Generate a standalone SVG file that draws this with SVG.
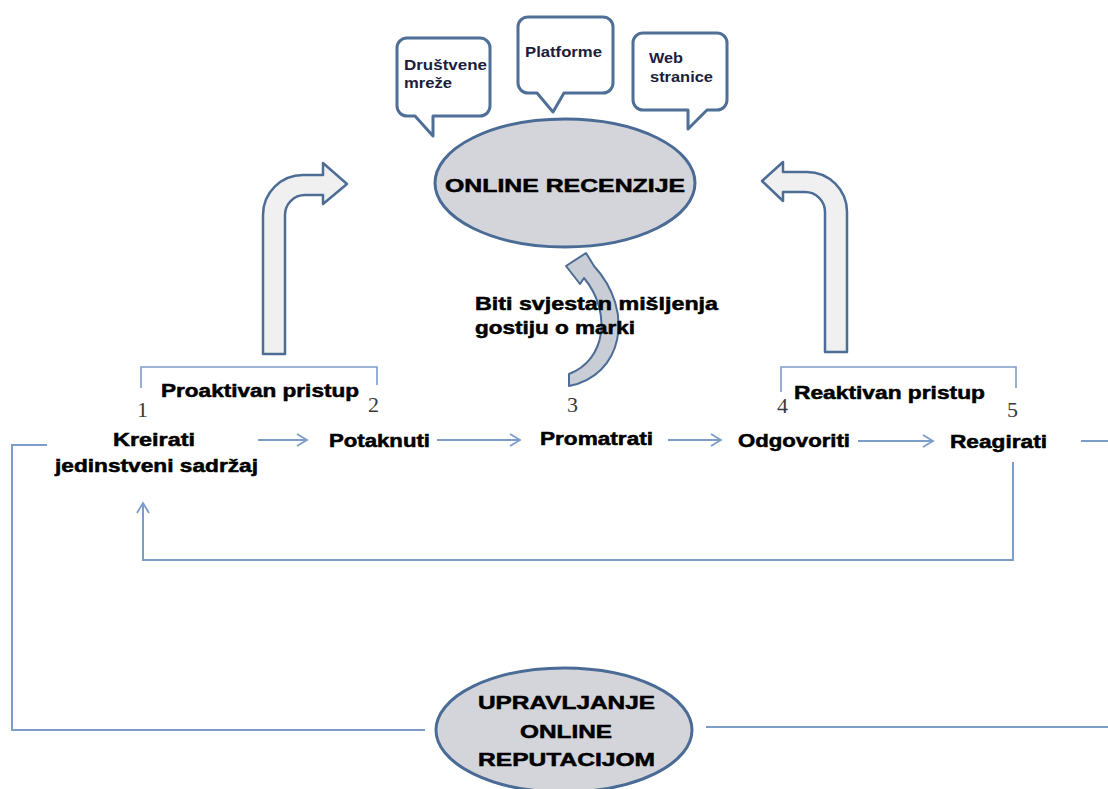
<svg xmlns="http://www.w3.org/2000/svg" width="1108" height="789" viewBox="0 0 1108 789">
<defs>
<marker id="ah" markerUnits="userSpaceOnUse" markerWidth="14" markerHeight="14" refX="11" refY="7" orient="auto">
<path d="M1,1 L11,7 L1,13" fill="none" stroke="#7c9cc9" stroke-width="1.8"/>
</marker>
</defs>
<style>
.t{font-family:"Liberation Sans",Arial,sans-serif;font-weight:bold;font-size:18px;fill:#000;stroke:#000;stroke-width:0.5;}
.b{font-family:"Liberation Sans",Arial,sans-serif;font-weight:bold;font-size:15px;fill:#1c1c3c;}
.n{font-family:"Liberation Serif","Times New Roman",serif;font-size:22px;fill:#3a3a3a;}
.bub{fill:#fff;stroke:#4f6f96;stroke-width:3;stroke-linejoin:round;}
.ell{fill:#d4d5da;stroke:#4a6b95;stroke-width:3;}
.big{fill:#f0f0f0;stroke:#4d6d96;stroke-width:2.5;stroke-linejoin:round;}
.ln{fill:none;stroke:#7c9cc9;stroke-width:2;}
.br{fill:none;stroke:#7c9cc9;stroke-width:1.6;}
</style>
<rect width="1108" height="789" fill="#fff"/>

<g id="bubble-drustvene">
<path class="bub" d="M407 38 H480 A10 10 0 0 1 490 48 V106 A10 10 0 0 1 480 116 H433 V136 L415 116 H407 A10 10 0 0 1 397 106 V48 A10 10 0 0 1 407 38 Z"/>
<text class="b" x="404" y="70" textLength="83" lengthAdjust="spacingAndGlyphs">Društvene</text>
<text class="b" x="404" y="88" textLength="48" lengthAdjust="spacingAndGlyphs">mreže</text>
</g>
<g id="bubble-platforme">
<path class="bub" d="M528 17 H603 A10 10 0 0 1 613 27 V83 A10 10 0 0 1 603 93 H564 L553 112 L537 93 H528 A10 10 0 0 1 518 83 V27 A10 10 0 0 1 528 17 Z"/>
<text class="b" x="525" y="57" textLength="77" lengthAdjust="spacingAndGlyphs">Platforme</text>
</g>
<g id="bubble-web">
<path class="bub" d="M643 33 H717 A10 10 0 0 1 727 43 V100 A10 10 0 0 1 717 110 H707 L688 129 V110 H643 A10 10 0 0 1 633 100 V43 A10 10 0 0 1 643 33 Z"/>
<text class="b" x="649" y="63" textLength="34" lengthAdjust="spacingAndGlyphs">Web</text>
<text class="b" x="650" y="82" textLength="63" lengthAdjust="spacingAndGlyphs">stranice</text>
</g>

<g id="online-recenzije">
<ellipse class="ell" cx="565" cy="183" rx="130" ry="64"/>
<text class="t" x="445" y="192" font-size="22" textLength="240" lengthAdjust="spacingAndGlyphs">ONLINE RECENZIJE</text>
</g>

<g id="arrow-proaktivan">
<path class="big" d="M263 354 L263 215 A40 40 0 0 1 303 175 L323 175 L323 163 L347 184 L323 204 L323 195 L305 195 A20 20 0 0 0 285 215 L285 354 Z"/>
</g>
<g id="arrow-reaktivan">
<path class="big" d="M847 352 L847 212 A40 40 0 0 0 807 172 L783 172 L783 162 L762 181 L783 201 L783 192 L805 192 A20 20 0 0 1 825 212 L825 352 Z"/>
</g>
<g id="arrow-svjestan">
<path d="M569 386 C622 376 636 312 594 266 L586 253 L566 266 L580 284 L584 278 C612 312 606 360 569 374 Z" fill="#c9cdd5" stroke="#4d6d96" stroke-width="2" stroke-linejoin="round"/>
<text class="t" x="475" y="310" textLength="243" lengthAdjust="spacingAndGlyphs">Biti svjestan mišljenja</text>
<text class="t" x="475" y="334" textLength="160" lengthAdjust="spacingAndGlyphs">gostiju o marki</text>
</g>

<g id="proaktivan-pristup">
<path class="br" d="M141 388 V367 H377 V385"/>
<text class="t" x="161" y="397" textLength="198" lengthAdjust="spacingAndGlyphs">Proaktivan pristup</text>
</g>
<g id="reaktivan-pristup">
<path class="br" d="M781 392 V367 H1016 V388"/>
<text class="t" x="794" y="399" textLength="191" lengthAdjust="spacingAndGlyphs">Reaktivan pristup</text>
</g>

<g id="num-1"><text class="n" x="137" y="417">1</text></g>
<g id="num-2"><text class="n" x="368" y="412">2</text></g>
<g id="num-3"><text class="n" x="567" y="412">3</text></g>
<g id="num-4"><text class="n" x="777" y="413">4</text></g>
<g id="num-5"><text class="n" x="1007" y="417">5</text></g>

<g id="kreirati">
<text class="t" x="113" y="446" textLength="82" lengthAdjust="spacingAndGlyphs">Kreirati</text>
<text class="t" x="55" y="472" textLength="203" lengthAdjust="spacingAndGlyphs">jedinstveni sadržaj</text>
</g>
<g id="potaknuti"><text class="t" x="329" y="447" textLength="101" lengthAdjust="spacingAndGlyphs">Potaknuti</text></g>
<g id="promatrati"><text class="t" x="540" y="445" textLength="113" lengthAdjust="spacingAndGlyphs">Promatrati</text></g>
<g id="odgovoriti"><text class="t" x="738" y="447" textLength="112" lengthAdjust="spacingAndGlyphs">Odgovoriti</text></g>
<g id="reagirati"><text class="t" x="950" y="448" textLength="97" lengthAdjust="spacingAndGlyphs">Reagirati</text></g>

<g id="upravljanje">
<ellipse class="ell" cx="564" cy="730" rx="128" ry="62"/>
<text class="t" x="478" y="709" font-size="23" textLength="177" lengthAdjust="spacingAndGlyphs">UPRAVLJANJE</text>
<text class="t" x="520" y="738" font-size="23" textLength="92" lengthAdjust="spacingAndGlyphs">ONLINE</text>
<text class="t" x="478" y="766" font-size="23" textLength="177" lengthAdjust="spacingAndGlyphs">REPUTACIJOM</text>
</g>

<g id="connectors">
<path class="ln" d="M258 440 H307" marker-end="url(#ah)"/>
<path class="ln" d="M437 440 H520" marker-end="url(#ah)"/>
<path class="ln" d="M668 440 H721" marker-end="url(#ah)"/>
<path class="ln" d="M858 441 H933" marker-end="url(#ah)"/>
<path class="ln" d="M1081 441 H1108"/>
<path class="ln" d="M1013 462 V560 H143 V503" marker-end="url(#ah)"/>
<path class="ln" d="M47 445 H12 V730 H425"/>
<path class="ln" d="M706 727 H1108"/>
</g>
</svg>
